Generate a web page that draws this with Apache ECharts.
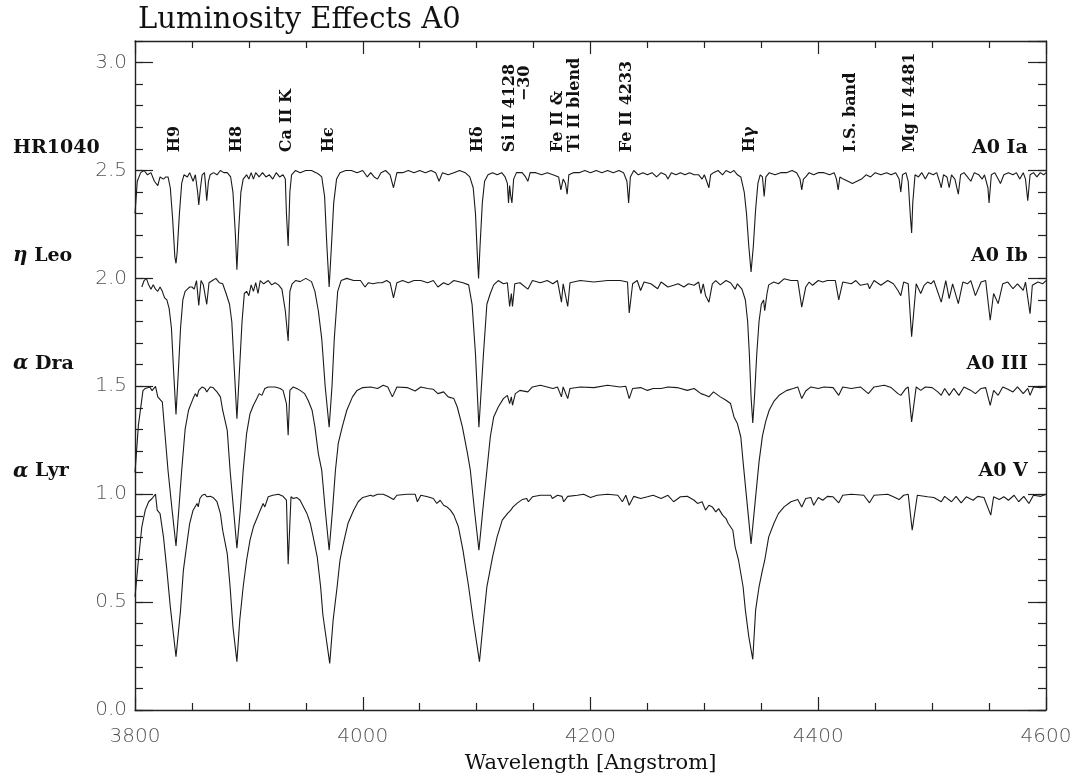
<!DOCTYPE html>
<html><head><meta charset="utf-8">
<script src="https://cdn.jsdelivr.net/npm/echarts@6/dist/echarts.min.js"></script>
<style>html,body{margin:0;padding:0;background:#fff}#c{width:1082px;height:778px}</style>
</head><body><div id="c"></div>
<script>
// ---------------- DATA ----------------
const titleText = 'Luminosity Effects A0';
const xName = 'Wavelength [Angstrom]';
const xMin = 3800, xMax = 4600, xStep = 200;
const yMin = 0, yMax = 3.1, yStep = 0.5;

const starNames = ['HR1040', '{g|η} Leo', '{g|α} Dra', '{g|α} Lyr'];
const starClasses = ['A0 Ia', 'A0 Ib', 'A0 III', 'A0 V'];
const continuumLevels = [2.5, 2.0, 1.5, 1.0];

const lineLabelText = ['H9', 'H8', 'Ca II K', 'Hϵ', 'Hδ', 'Si II 4128', 'Fe II &', 'Ti II blend', 'Fe II 4233', 'Hγ', 'I.S. band', 'Mg II 4481'];
const lineLabelWave = [3835, 3889, 3933.5, 3970, 4101, 4129, 4171, 4186, 4232, 4339.5, 4428.5, 4480.5];
const extraLabelText = ['−30'];
const extraLabelWave = [4142];

const hr1040 = [[3800,2.30],[3802,2.45],[3805,2.49],[3808,2.50],[3811,2.48],[3814,2.49],[3817,2.45],[3820,2.43],[3822,2.47],[3825,2.46],[3827,2.47],[3829,2.47],[3831,2.42],[3833,2.28],[3835,2.10],[3836,2.07],[3837,2.12],[3839,2.30],[3841,2.44],[3843,2.48],[3846,2.47],[3848,2.49],[3851,2.45],[3853,2.48],[3855,2.40],[3856,2.34],[3857.5,2.42],[3859,2.48],[3861,2.49],[3862,2.43],[3863,2.36],[3864.5,2.45],[3866,2.48],[3869,2.49],[3872,2.48],[3875,2.50],[3878,2.49],[3881,2.49],[3884,2.47],[3886,2.40],[3888,2.22],[3889.5,2.04],[3891,2.22],[3893,2.40],[3895,2.46],[3898,2.48],[3900,2.46],[3902,2.49],[3904,2.46],[3906,2.49],[3909,2.47],[3912,2.49],[3915,2.47],[3918,2.48],[3921,2.46],[3924,2.49],[3927,2.47],[3930,2.48],[3932,2.46],[3933,2.30],[3934.5,2.15],[3936,2.40],[3937.5,2.48],[3941,2.50],[3945,2.49],[3950,2.50],[3955,2.50],[3959,2.49],[3962,2.48],[3964,2.47],[3966.5,2.38],[3968.5,2.15],[3970.5,1.96],[3972.5,2.15],[3974.5,2.35],[3977,2.46],[3980,2.49],[3985,2.50],[3990,2.50],[3995,2.49],[4000,2.50],[4004,2.47],[4007,2.49],[4010,2.47],[4013,2.46],[4016,2.49],[4020,2.50],[4024,2.48],[4027,2.42],[4030,2.49],[4035,2.49],[4040,2.50],[4045,2.49],[4050,2.50],[4055,2.49],[4060,2.50],[4064,2.49],[4067,2.45],[4070,2.49],[4075,2.48],[4080,2.49],[4085,2.50],[4090,2.49],[4094,2.47],[4097,2.42],[4099,2.30],[4100.5,2.12],[4101.7,2.00],[4103,2.15],[4105,2.35],[4107,2.45],[4110,2.48],[4114,2.49],[4118,2.48],[4122,2.49],[4125,2.47],[4127,2.44],[4128,2.35],[4129,2.43],[4130,2.38],[4131,2.35],[4132.5,2.46],[4135,2.49],[4140,2.49],[4143,2.47],[4145,2.45],[4147,2.49],[4152,2.49],[4157,2.48],[4162,2.49],[4167,2.48],[4172,2.47],[4174,2.41],[4176,2.46],[4178,2.44],[4179.5,2.39],[4181,2.48],[4185,2.49],[4190,2.49],[4195,2.50],[4200,2.49],[4205,2.50],[4210,2.49],[4215,2.50],[4220,2.49],[4225,2.50],[4229,2.49],[4232,2.45],[4233.5,2.35],[4235,2.47],[4238,2.50],[4242,2.48],[4246,2.49],[4250,2.48],[4254,2.49],[4258,2.47],[4262,2.49],[4266,2.48],[4268,2.46],[4271,2.49],[4275,2.48],[4279,2.49],[4283,2.48],[4287,2.49],[4291,2.48],[4295,2.48],[4298,2.46],[4300,2.48],[4302,2.45],[4304,2.42],[4305.5,2.48],[4308,2.49],[4312,2.50],[4316,2.48],[4319,2.50],[4323,2.49],[4326,2.50],[4329,2.48],[4332,2.47],[4335,2.40],[4337,2.30],[4339,2.15],[4341,2.03],[4343,2.15],[4345,2.32],[4347,2.44],[4349,2.48],[4351,2.47],[4352.5,2.38],[4354,2.47],[4357,2.49],[4362,2.48],[4367,2.49],[4372,2.49],[4377,2.50],[4381,2.49],[4384,2.46],[4385.5,2.41],[4387,2.46],[4389,2.47],[4392,2.49],[4396,2.48],[4400,2.49],[4405,2.49],[4410,2.48],[4414,2.49],[4416,2.46],[4417.5,2.41],[4419,2.47],[4422,2.46],[4426,2.45],[4430,2.44],[4434,2.45],[4438,2.46],[4442,2.48],[4446,2.47],[4450,2.49],[4455,2.48],[4460,2.49],[4464,2.48],[4468,2.49],[4471,2.46],[4472.5,2.40],[4474,2.48],[4477,2.49],[4479,2.45],[4481,2.28],[4482,2.21],[4483,2.35],[4485,2.48],[4488,2.47],[4491,2.49],[4494,2.46],[4497,2.49],[4501,2.48],[4504,2.49],[4507,2.44],[4508,2.42],[4510,2.48],[4513,2.47],[4515,2.42],[4517,2.48],[4520,2.46],[4523,2.39],[4525,2.48],[4528,2.49],[4531,2.47],[4534,2.45],[4537,2.49],[4541,2.48],[4544,2.46],[4546,2.48],[4549,2.42],[4550,2.35],[4552,2.48],[4555,2.49],[4558,2.46],[4560,2.44],[4563,2.48],[4567,2.49],[4571,2.48],[4574,2.49],[4577,2.46],[4580,2.49],[4582,2.46],[4584,2.36],[4586,2.48],[4589,2.49],[4592,2.47],[4595,2.49],[4598,2.48],[4600,2.49]];

const etaLeo = [[3806,1.96],[3808,1.99],[3810,2.00],[3812,1.97],[3814,1.95],[3816,1.97],[3818,1.95],[3820,1.94],[3822,1.96],[3824,1.94],[3826,1.91],[3828,1.90],[3830,1.86],[3832,1.77],[3834,1.56],[3836,1.37],[3838,1.56],[3840,1.77],[3842,1.90],[3844,1.94],[3846,1.95],[3848,1.96],[3850,1.96],[3852,1.95],[3854,1.99],[3856,1.875],[3858,1.99],[3860,1.97],[3861.5,1.975],[3863,1.88],[3865,1.98],[3868,1.99],[3871,2.00],[3874,1.98],[3877,1.975],[3880,1.93],[3883,1.88],[3885,1.80],[3887,1.60],[3889.5,1.35],[3892,1.60],[3894,1.80],[3896,1.93],[3898,1.94],[3900,1.92],[3902,1.97],[3904,1.94],[3906,1.98],[3908,1.93],[3910,1.99],[3913,1.975],[3917,1.99],[3920,1.97],[3923,1.98],[3926,1.97],[3929,1.95],[3932,1.85],[3934.5,1.71],[3936,1.94],[3938,1.975],[3941,1.99],[3945,1.985],[3950,2.00],[3955,1.985],[3958,1.94],[3961,1.85],[3964,1.72],[3967,1.50],[3970.5,1.31],[3973,1.50],[3975,1.72],[3978,1.94],[3981,1.99],[3986,2.00],[3992,1.99],[3998,1.99],[4002,1.96],[4005,1.98],[4009,1.975],[4013,1.98],[4017,1.98],[4021,1.99],[4024,1.98],[4027,1.91],[4030,1.98],[4035,1.99],[4040,1.98],[4045,1.99],[4051,1.99],[4057,1.98],[4062,1.99],[4066,1.96],[4071,1.98],[4075,1.97],[4080,1.99],[4088,1.98],[4093,1.97],[4096,1.88],[4099,1.65],[4102,1.31],[4106,1.65],[4109,1.88],[4112,1.93],[4115,1.97],[4119,1.99],[4123.5,1.975],[4127,1.98],[4129,1.87],[4130.5,1.93],[4131.5,1.87],[4133.5,1.975],[4138,1.98],[4145,1.95],[4149,1.99],[4156,1.98],[4162,1.99],[4167,1.975],[4171,1.99],[4174.5,1.89],[4176,1.975],[4180,1.87],[4182,1.98],[4191,1.99],[4203,1.983],[4215,1.99],[4226,1.99],[4232.5,1.983],[4234,1.84],[4237,1.975],[4241,1.99],[4244,1.944],[4247,1.983],[4253,1.975],[4259,1.952],[4262,1.983],[4268,1.96],[4273,1.968],[4277,1.975],[4282,1.96],[4286,1.975],[4291,1.968],[4295,1.983],[4297,1.929],[4299,1.975],[4301,1.921],[4304,1.89],[4307,1.975],[4310,1.99],[4314,1.97],[4319,1.99],[4323,1.98],[4327,1.95],[4329,1.975],[4333,1.95],[4336,1.90],[4338,1.80],[4339.5,1.65],[4341,1.45],[4342.5,1.33],[4344,1.45],[4346,1.65],[4348,1.80],[4350,1.88],[4352,1.90],[4353,1.85],[4355,1.93],[4356.5,1.97],[4361,1.983],[4365,1.975],[4370,1.998],[4376,1.99],[4382,1.99],[4385.5,1.867],[4389,1.96],[4392,1.983],[4395,1.968],[4400,1.99],[4404,1.983],[4408,1.99],[4415,1.99],[4418,1.90],[4421.5,1.983],[4429,1.975],[4433,1.99],[4437,1.968],[4443.5,1.975],[4445,1.952],[4449,1.99],[4455,1.968],[4461,1.99],[4466,1.975],[4470,1.944],[4472.5,1.92],[4475,1.983],[4479,1.975],[4482,1.73],[4486,1.975],[4490,1.93],[4493,1.968],[4496,1.983],[4499,1.975],[4501.5,1.99],[4508,1.89],[4512,1.99],[4515,1.906],[4518,1.975],[4523,1.883],[4527,1.983],[4531,1.975],[4534,1.99],[4538,1.92],[4543,1.983],[4547,1.99],[4551,1.806],[4554,1.93],[4558,1.883],[4562,1.975],[4566.5,1.983],[4571,1.952],[4575,1.975],[4580,1.944],[4582,1.983],[4586,1.836],[4588,1.968],[4593,1.983],[4597,1.975],[4600,1.99]];

const alphaDra = [[3800,1.10],[3803,1.32],[3807,1.48],[3809,1.49],[3813,1.497],[3815,1.48],[3818,1.50],[3820,1.451],[3824,1.427],[3826,1.30],[3829,1.11],[3832.5,0.93],[3836,0.76],[3838.5,0.93],[3841,1.11],[3844,1.30],[3847,1.389],[3851,1.443],[3853,1.466],[3854.5,1.451],[3856,1.481],[3859,1.497],[3861.5,1.49],[3863,1.474],[3866,1.497],[3868.5,1.494],[3872,1.474],[3875,1.451],[3877,1.389],[3881,1.296],[3883.5,1.11],[3886.5,0.93],[3889.5,0.75],[3892.5,0.93],[3895,1.11],[3898,1.281],[3901,1.373],[3904,1.412],[3907,1.443],[3909,1.466],[3911.5,1.458],[3914,1.49],[3917,1.497],[3923,1.497],[3927.5,1.49],[3930,1.481],[3933,1.42],[3934.5,1.273],[3936,1.481],[3939,1.497],[3942,1.49],[3945,1.481],[3949,1.466],[3952,1.435],[3955.5,1.389],[3958,1.312],[3961,1.188],[3964,1.11],[3967,0.93],[3970.5,0.74],[3973.5,0.93],[3976,1.11],[3978.5,1.235],[3982,1.312],[3986,1.389],[3991,1.451],[3995,1.481],[4000,1.494],[4007,1.497],[4013,1.49],[4018,1.505],[4022,1.497],[4026,1.451],[4030,1.497],[4039,1.494],[4046,1.478],[4051,1.497],[4057,1.49],[4062,1.486],[4066,1.466],[4071,1.474],[4075,1.451],[4080,1.443],[4083,1.404],[4087.5,1.312],[4092,1.188],[4094.5,1.11],[4098,0.93],[4102,0.74],[4105.5,0.93],[4109,1.11],[4112,1.265],[4115,1.358],[4119,1.404],[4123.5,1.443],[4127,1.458],[4129,1.42],[4130.5,1.451],[4131.5,1.412],[4134,1.466],[4138,1.481],[4145,1.474],[4149,1.497],[4156,1.505],[4167,1.49],[4171,1.497],[4174.5,1.451],[4176,1.497],[4180,1.443],[4182,1.49],[4191,1.497],[4203,1.494],[4215,1.505],[4226,1.497],[4231,1.50],[4234,1.443],[4237,1.49],[4244,1.494],[4250,1.481],[4255,1.49],[4262,1.49],[4268,1.497],[4276,1.494],[4285,1.481],[4291,1.49],[4297,1.466],[4301,1.458],[4304,1.451],[4308,1.474],[4314,1.451],[4319,1.435],[4323,1.42],[4326,1.358],[4329,1.327],[4332,1.265],[4334,1.15],[4337.5,0.96],[4341,0.77],[4344.5,0.96],[4348,1.15],[4351,1.27],[4354,1.34],[4357,1.39],[4361,1.43],[4366,1.46],[4372,1.48],[4378,1.49],[4382,1.497],[4385.5,1.443],[4389,1.478],[4393.5,1.497],[4400,1.49],[4405,1.497],[4413,1.494],[4418,1.458],[4421.5,1.497],[4429,1.49],[4437,1.497],[4444,1.466],[4449,1.497],[4458,1.505],[4464,1.494],[4470,1.466],[4472.5,1.458],[4477,1.49],[4479,1.497],[4482,1.335],[4486,1.497],[4490,1.481],[4494,1.497],[4500,1.494],[4505,1.474],[4508,1.458],[4511,1.49],[4515,1.458],[4519,1.49],[4523.5,1.458],[4528,1.497],[4534,1.481],[4538,1.466],[4543,1.49],[4547,1.494],[4551,1.412],[4554,1.481],[4558,1.458],[4562,1.497],[4566.5,1.486],[4571,1.474],[4575,1.497],[4580,1.466],[4584,1.49],[4586,1.458],[4589,1.497],[4595,1.494],[4600,1.497]];

const alphaLyr = [[3800,0.525],[3803,0.694],[3806,0.849],[3809,0.926],[3812,0.965],[3815,0.98],[3818,1.0],[3819.5,0.926],[3822,0.91],[3825,0.802],[3828,0.648],[3831,0.478],[3836,0.247],[3840,0.463],[3842.5,0.648],[3846,0.787],[3848,0.864],[3851,0.926],[3854.5,0.957],[3855.5,0.941],[3857,0.98],[3859,0.995],[3860,0.988],[3861.5,1.0],[3863,0.988],[3866,0.99],[3868.5,0.985],[3872,0.965],[3875,0.91],[3877,0.833],[3881,0.725],[3883.5,0.571],[3886,0.386],[3889.5,0.224],[3892,0.417],[3895,0.571],[3898,0.694],[3901,0.787],[3904,0.849],[3907,0.887],[3910,0.926],[3912.5,0.957],[3914,0.941],[3917,0.988],[3921,0.995],[3926,1.0],[3930,0.99],[3933,0.972],[3934.5,0.676],[3937,0.988],[3939,0.98],[3942,0.985],[3945,0.972],[3948,0.941],[3951,0.91],[3954,0.864],[3956.5,0.802],[3960,0.71],[3963,0.571],[3965,0.44],[3971,0.216],[3974,0.417],[3977.5,0.571],[3980,0.694],[3983,0.772],[3987,0.864],[3992,0.926],[3996,0.965],[4000,0.985],[4007,0.995],[4009,0.99],[4013,1.0],[4018,1.0],[4022,0.99],[4027,0.975],[4030,0.995],[4039,1.0],[4046,1.0],[4048,0.965],[4051,0.995],[4057,0.988],[4062,0.98],[4065,0.957],[4068,0.972],[4071,0.949],[4074,0.941],[4077,0.926],[4080,0.903],[4084,0.849],[4088,0.741],[4093,0.571],[4097,0.417],[4102.5,0.224],[4106,0.417],[4109,0.571],[4114,0.71],[4118,0.802],[4122.5,0.88],[4127,0.91],[4130,0.926],[4132,0.941],[4136,0.96],[4140,0.975],[4144,0.98],[4145.5,0.965],[4149,0.988],[4156,0.995],[4165,0.995],[4166.5,0.98],[4171,0.995],[4175,0.99],[4176.5,0.965],[4180,0.99],[4188.5,0.995],[4194,1.0],[4200,0.985],[4206,0.995],[4215,1.0],[4224,0.995],[4228,0.965],[4231,0.995],[4234,0.949],[4238,0.99],[4244,0.98],[4250,0.988],[4255,0.995],[4262,0.98],[4268,0.995],[4273,0.965],[4279,0.988],[4285,0.99],[4291,0.972],[4294,0.957],[4298,0.965],[4301,0.926],[4304,0.949],[4307,0.941],[4310,0.918],[4312.5,0.933],[4316,0.903],[4319,0.887],[4321,0.864],[4325,0.833],[4327,0.756],[4330,0.694],[4334,0.571],[4336,0.463],[4339,0.34],[4342.5,0.235],[4345,0.463],[4348,0.571],[4351,0.648],[4353,0.694],[4356.5,0.802],[4361,0.864],[4365,0.91],[4370,0.941],[4376,0.965],[4382,0.975],[4385.5,0.941],[4389,0.98],[4393.5,0.985],[4396,0.949],[4400,0.985],[4404,0.972],[4408,0.99],[4413,0.988],[4418,0.96],[4421.5,0.995],[4429,1.0],[4440,0.995],[4445,0.96],[4449,0.995],[4461,1.0],[4466,0.988],[4471,0.975],[4475,0.995],[4479,1.0],[4482.5,0.833],[4487,0.995],[4496,0.988],[4501.5,0.985],[4508,0.965],[4511,0.99],[4517,0.965],[4521,0.99],[4525.5,0.96],[4530,0.988],[4536,0.972],[4540,0.99],[4545.5,0.985],[4551.5,0.903],[4554,0.988],[4559,0.975],[4563,0.988],[4567,0.972],[4572,0.995],[4576,0.965],[4580.5,0.99],[4585,0.957],[4589,0.995],[4595.5,0.99],[4600,1.0]];

const spectra = [hr1040, etaLeo, alphaDra, alphaLyr];

// ---------------- CHART ----------------
const AXC = '#222';
const SERIF = '"DejaVu Serif", "Liberation Serif", serif';
const SANS = '"DejaVu Sans", Roboto, sans-serif';
const chart = echarts.init(document.getElementById('c'), null, {renderer: 'canvas'});

function xAx(pos, showLabel) {
  return {
    type: 'value', position: pos, min: xMin, max: xMax, interval: xStep,
    axisLine: {show: true, onZero: false, lineStyle: {color: AXC, width: 1.4}},
    axisTick: {show: true, inside: true, length: 13, lineStyle: {color: AXC, width: 1.2}},
    minorTick: {show: true, splitNumber: 4, length: 7, lineStyle: {color: AXC, width: 1.2}},
    splitLine: {show: false}, minorSplitLine: {show: false},
    axisLabel: {show: showLabel, fontSize: 20, color: '#555', fontFamily: SANS, margin: 17, fontWeight: 300,
      formatter: v => String(v)},
    name: showLabel ? xName : '', nameLocation: 'middle', nameGap: 43,
    nameTextStyle: {fontFamily: SERIF, fontSize: 21, color: '#111'}
  };
}
function yAx(pos, showLabel, step, tickLen, showLine) {
  return {
    type: 'value', position: pos, min: yMin, max: yMax, interval: step,
    axisLine: {show: showLine, onZero: false, lineStyle: {color: AXC, width: 1.4}},
    axisTick: {show: true, inside: true, length: tickLen, lineStyle: {color: AXC, width: 1.2}},
    splitLine: {show: false},
    axisLabel: {show: showLabel, fontSize: 20, color: '#555', fontFamily: SANS, margin: 8, fontWeight: 300,
      showMaxLabel: false, formatter: v => v.toFixed(1)}
  };
}

const option = {
  backgroundColor: '#fff',
  animation: false,
  title: {text: titleText, left: 133, top: 1,
    textStyle: {fontFamily: SERIF, fontSize: 29, fontWeight: 'normal', color: '#111'}},
  grid: {left: 135, right: 36, top: 41, bottom: 68, outerBoundsMode: 'none'},
  xAxis: [xAx('bottom', true), xAx('top', false)],
  yAxis: [yAx('left', true, yStep, 18, true), yAx('left', false, 0.1, 8, false),
          yAx('right', false, yStep, 18, true), yAx('right', false, 0.1, 8, false)],
  series: spectra.map((d, i) => ({
    type: 'line', data: d, xAxisIndex: 0, yAxisIndex: 0, showSymbol: false, symbol: 'none',
    lineStyle: {color: '#1a1a1a', width: 1.1}, silent: true, clip: true
  }))
};
chart.setOption(option);

// ---------------- LABELS ----------------
const g = [];
const P = (x, y) => chart.convertToPixel({gridIndex: 0}, [x, y]);
const labelBase = 2.585;
const LBL = {fontFamily: SERIF, fontSize: 16, fontWeight: 'bold', fill: '#111'};
lineLabelText.forEach((t, i) => {
  const p = P(lineLabelWave[i], labelBase);
  g.push({type: 'text', x: p[0], y: p[1], rotation: Math.PI / 2,
    style: Object.assign({text: t, x: 0, y: 0, textAlign: 'left', align: 'left', textVerticalAlign: 'middle', verticalAlign: 'middle'}, LBL)});
});
extraLabelText.forEach((t, i) => {
  const p = P(extraLabelWave[i], 2.986);
  g.push({type: 'text', x: p[0], y: p[1], rotation: Math.PI / 2,
    style: Object.assign({text: t, x: 0, y: 0, textAlign: 'right', align: 'right', textVerticalAlign: 'middle', verticalAlign: 'middle'}, LBL)});
});
const rich = {g: {fontFamily: SERIF, fontSize: 20, fontStyle: 'italic', fontWeight: 'bold', fill: '#111', color: '#111'}};
continuumLevels.forEach((lev, i) => {
  const p = P(xMin, lev + 0.105);
  g.push({type: 'text', x: 13, y: p[1],
    style: {text: starNames[i], x: 0, y: 0, textAlign: 'left', align: 'left', textVerticalAlign: 'middle', verticalAlign: 'middle',
      fontFamily: SERIF, fontSize: 19, fontWeight: 'bold', fill: '#111', rich: rich}});
  const q = P(4584, lev + 0.105);
  g.push({type: 'text', x: q[0], y: q[1],
    style: {text: starClasses[i], x: 0, y: 0, textAlign: 'right', align: 'right', textVerticalAlign: 'middle', verticalAlign: 'middle',
      fontFamily: SERIF, fontSize: 19, fontWeight: 'bold', fill: '#111'}});
});
chart.setOption({graphic: g});
</script>
</body></html>
